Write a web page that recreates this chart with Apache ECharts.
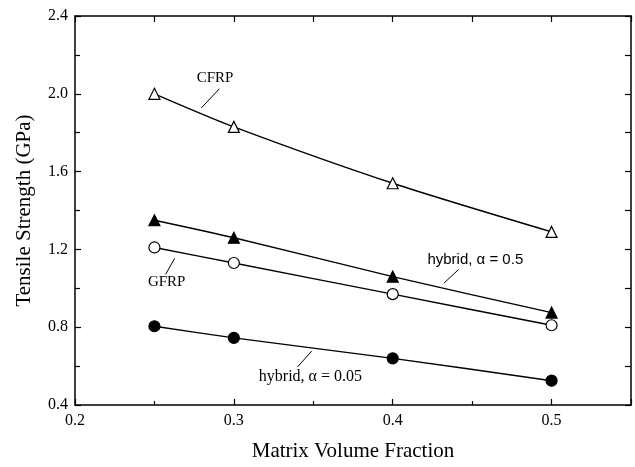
<!DOCTYPE html>
<html><head><meta charset="utf-8">
<script src="https://cdn.jsdelivr.net/npm/echarts@6/dist/echarts.min.js"></script>
<style>html,body{margin:0;padding:0;background:#fff}#c{width:635px;height:467px}</style>
</head><body><div id="c"></div>
<script>
const xValues = [0.25, 0.3, 0.4, 0.5];
const cfrp = [2.0, 1.83, 1.54, 1.29];
const hybrid05 = [1.35, 1.26, 1.06, 0.875];
const gfrp = [1.21, 1.13, 0.97, 0.81];
const hybrid005 = [0.805, 0.745, 0.64, 0.525];
const xTicks = [0.2, 0.3, 0.4, 0.5];
const yTicks = [0.4, 0.8, 1.2, 1.6, 2.0, 2.4];

const serif = '"Liberation Serif", "DejaVu Serif", serif';
const sans = '"Liberation Sans", Arial, sans-serif';
const pairs = v => xValues.map((x, i) => [x, v[i]]);

function ser(name, data, symbol, filled, size) {
  return {
    name, type: 'line', data: pairs(data), smooth: 0.25,
    symbol, symbolSize: size, showSymbol: true,
    lineStyle: { color: '#000', width: 1.4 },
    itemStyle: { color: filled ? '#000' : '#fff', borderColor: '#000', borderWidth: 1.2 },
    xAxisIndex: 0, yAxisIndex: 0, z: 3
  };
}

const chart = echarts.init(document.getElementById('c'));
const axisLine = { show: true, lineStyle: { color: '#000', width: 1.5 } };
chart.setOption({
  animation: false,
  grid: { left: 75, right: 4, top: 16, bottom: 62 },
  xAxis: [
    { type: 'value', min: 0.2, max: 0.55, interval: 0.1, position: 'bottom',
      axisLine, axisTick: { inside: true, length: 6, lineStyle: { color: '#000', width: 1.2 } },
      minorTick: { show: true, splitNumber: 2, length: 4, lineStyle: { color: '#000', width: 1.2 } },
      splitLine: { show: false },
      axisLabel: { color: '#000', fontFamily: serif, fontSize: 16, margin: 8,
        formatter: v => { const t = xTicks.find(k => Math.abs(k - v) < 1e-6); return t !== undefined ? t.toFixed(1) : ''; } },
      name: 'Matrix Volume Fraction', nameLocation: 'middle', nameGap: 36,
      nameTextStyle: { color: '#000', fontFamily: serif, fontSize: 21 } },
    { type: 'value', min: 0.2, max: 0.55, interval: 0.1, position: 'top',
      axisLine, axisTick: { inside: true, length: 6, lineStyle: { color: '#000', width: 1.2 } },
      minorTick: { show: true, splitNumber: 2, length: 6, lineStyle: { color: '#000', width: 1.2 } },
      splitLine: { show: false }, axisLabel: { show: false } }
  ],
  yAxis: [
    { type: 'value', min: 0.4, max: 2.4, interval: 0.4, position: 'left',
      axisLine, axisTick: { inside: true, length: 6, lineStyle: { color: '#000', width: 1.2 } },
      minorTick: { show: true, splitNumber: 2, length: 5, lineStyle: { color: '#000', width: 1.2 } },
      splitLine: { show: false },
      axisLabel: { color: '#000', fontFamily: serif, fontSize: 16, margin: 7,
        formatter: v => { const t = yTicks.find(k => Math.abs(k - v) < 1e-6); return t !== undefined ? t.toFixed(1) : ''; } },
      name: 'Tensile Strength (GPa)', nameLocation: 'middle', nameGap: 40,
      nameTextStyle: { color: '#000', fontFamily: serif, fontSize: 21 } },
    { type: 'value', min: 0.4, max: 2.4, interval: 0.4, position: 'right',
      axisLine, axisTick: { inside: true, length: 6, lineStyle: { color: '#000', width: 1.2 } },
      minorTick: { show: true, splitNumber: 2, length: 6, lineStyle: { color: '#000', width: 1.2 } },
      splitLine: { show: false }, axisLabel: { show: false } }
  ],
  series: [
    ser('CFRP', cfrp, 'triangle', false, 11),
    ser('hybrid, α = 0.5', hybrid05, 'triangle', true, 11),
    ser('GFRP', gfrp, 'circle', false, 11),
    ser('hybrid, α = 0.05', hybrid005, 'circle', true, 11)
  ]
});

// annotations: positions in data coordinates
const notes = [
  { text: 'CFRP', font: '15px ' + serif, at: [0.2882, 2.082], line: [[0.2909, 2.026], [0.2796, 1.928]] },
  { text: 'GFRP', font: '15px ' + serif, at: [0.2577, 1.033], line: [[0.2627, 1.154], [0.2571, 1.072]] },
  { text: 'hybrid, α = 0.5', font: '15px ' + sans, at: [0.452, 1.144], line: [[0.4415, 1.097], [0.4322, 1.026]] },
  { text: 'hybrid, α = 0.05', font: '16px ' + serif, at: [0.3482, 0.544], line: [[0.349, 0.677], [0.340, 0.595]] }
];
const px = p => chart.convertToPixel({ xAxisIndex: 0, yAxisIndex: 0 }, p);
const g = [];
notes.forEach(n => {
  const c = px(n.at), a = px(n.line[0]), b = px(n.line[1]);
  g.push({ type: 'text', x: c[0], y: c[1], style: { text: n.text, fill: '#000', font: n.font, align: 'center', verticalAlign: 'middle' } });
  g.push({ type: 'line', shape: { x1: a[0], y1: a[1], x2: b[0], y2: b[1] }, style: { stroke: '#000', lineWidth: 1 } });
});
chart.setOption({ graphic: g });
</script></body></html>
